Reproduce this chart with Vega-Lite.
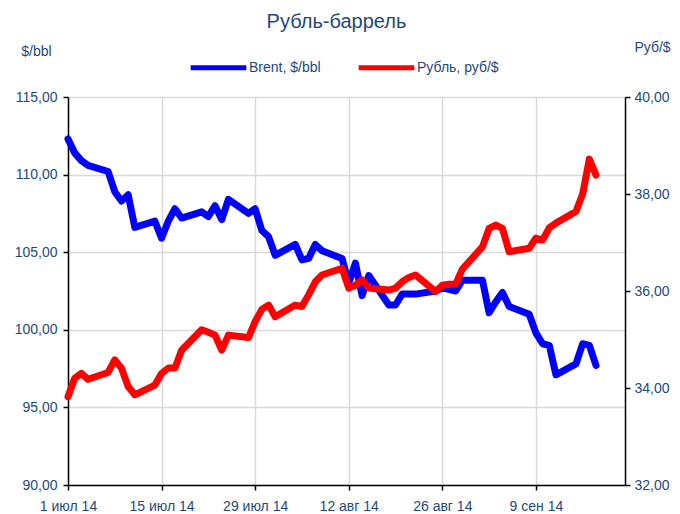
{
  "$schema": "https://vega.github.io/schema/vega-lite/v6.json",
  "width": 557,
  "height": 388,
  "autosize": {"type": "none"},
  "padding": {"left": 68, "top": 97, "right": 55, "bottom": 29},
  "background": "white",
  "title": {
    "text": "Рубль-баррель",
    "font": "Liberation Sans",
    "fontSize": 20,
    "fontWeight": "normal",
    "color": "#1F497D",
    "anchor": "middle",
    "dx": -10,
    "offset": 5
  },
  "config": {
    "view": {"stroke": null},
    "font": "Liberation Sans",
    "axis": {
      "labelFont": "Liberation Sans",
      "labelFontSize": 14,
      "labelColor": "#1F497D",
      "titleFont": "Liberation Sans",
      "titleFontSize": 14,
      "titleFontWeight": "normal",
      "titleColor": "#1F497D",
      "domainColor": "#000000",
      "domainWidth": 1.5,
      "tickColor": "#000000",
      "tickWidth": 1.5,
      "tickSize": 5,
      "gridColor": "#d9d9d9",
      "gridWidth": 1.5,
      "gridOpacity": 1
    },
    "legend": {
      "orient": "none",
      "legendX": 120,
      "legendY": -60,
      "direction": "horizontal",
      "title": null,
      "symbolType": "stroke",
      "symbolSize": 3100,
      "symbolStrokeWidth": 5,
      "labelFont": "Liberation Sans",
      "labelFontSize": 14,
      "labelColor": "#1F497D",
      "labelOffset": 0,
      "columnPadding": 27,
      "labelLimit": 200
    }
  },
  "data": {
    "values": [
      {"date": "2014-07-01", "brent": 112.3, "rub": 33.82},
      {"date": "2014-07-02", "brent": 111.4, "rub": 34.20},
      {"date": "2014-07-03", "brent": 110.9, "rub": 34.30},
      {"date": "2014-07-04", "brent": 110.6, "rub": 34.18},
      {"date": "2014-07-07", "brent": 110.2, "rub": 34.32},
      {"date": "2014-07-08", "brent": 108.9, "rub": 34.58},
      {"date": "2014-07-09", "brent": 108.3, "rub": 34.41},
      {"date": "2014-07-10", "brent": 108.7, "rub": 34.03},
      {"date": "2014-07-11", "brent": 106.6, "rub": 33.86},
      {"date": "2014-07-14", "brent": 107.0, "rub": 34.06},
      {"date": "2014-07-15", "brent": 105.9, "rub": 34.30},
      {"date": "2014-07-16", "brent": 107.0, "rub": 34.41},
      {"date": "2014-07-17", "brent": 107.8, "rub": 34.41},
      {"date": "2014-07-18", "brent": 107.2, "rub": 34.78},
      {"date": "2014-07-21", "brent": 107.6, "rub": 35.20},
      {"date": "2014-07-22", "brent": 107.3, "rub": 35.15},
      {"date": "2014-07-23", "brent": 108.0, "rub": 35.09},
      {"date": "2014-07-24", "brent": 107.1, "rub": 34.78},
      {"date": "2014-07-25", "brent": 108.4, "rub": 35.09},
      {"date": "2014-07-28", "brent": 107.5, "rub": 35.04},
      {"date": "2014-07-29", "brent": 107.8, "rub": 35.37},
      {"date": "2014-07-30", "brent": 106.4, "rub": 35.62},
      {"date": "2014-07-31", "brent": 106.0, "rub": 35.71},
      {"date": "2014-08-01", "brent": 104.8, "rub": 35.47},
      {"date": "2014-08-04", "brent": 105.5, "rub": 35.71},
      {"date": "2014-08-05", "brent": 104.5, "rub": 35.68},
      {"date": "2014-08-06", "brent": 104.6, "rub": 35.92},
      {"date": "2014-08-07", "brent": 105.5, "rub": 36.19},
      {"date": "2014-08-08", "brent": 105.1, "rub": 36.33},
      {"date": "2014-08-11", "brent": 104.6, "rub": 36.47},
      {"date": "2014-08-12", "brent": 103.0, "rub": 36.06},
      {"date": "2014-08-13", "brent": 104.3, "rub": 36.12},
      {"date": "2014-08-14", "brent": 102.2, "rub": 36.23},
      {"date": "2014-08-15", "brent": 103.5, "rub": 36.06},
      {"date": "2014-08-18", "brent": 101.6, "rub": 36.02},
      {"date": "2014-08-19", "brent": 101.6, "rub": 36.06},
      {"date": "2014-08-20", "brent": 102.3, "rub": 36.19},
      {"date": "2014-08-21", "brent": 102.3, "rub": 36.28},
      {"date": "2014-08-22", "brent": 102.3, "rub": 36.33},
      {"date": "2014-08-25", "brent": 102.5, "rub": 35.99},
      {"date": "2014-08-26", "brent": 102.7, "rub": 36.12},
      {"date": "2014-08-27", "brent": 102.6, "rub": 36.14},
      {"date": "2014-08-28", "brent": 102.5, "rub": 36.14},
      {"date": "2014-08-29", "brent": 103.2, "rub": 36.45},
      {"date": "2014-09-01", "brent": 103.2, "rub": 36.91},
      {"date": "2014-09-02", "brent": 101.1, "rub": 37.29},
      {"date": "2014-09-03", "brent": 101.8, "rub": 37.36},
      {"date": "2014-09-04", "brent": 102.4, "rub": 37.29},
      {"date": "2014-09-05", "brent": 101.5, "rub": 36.81},
      {"date": "2014-09-08", "brent": 101.0, "rub": 36.88},
      {"date": "2014-09-09", "brent": 99.8, "rub": 37.09},
      {"date": "2014-09-10", "brent": 99.1, "rub": 37.05},
      {"date": "2014-09-11", "brent": 99.0, "rub": 37.30},
      {"date": "2014-09-12", "brent": 97.1, "rub": 37.40},
      {"date": "2014-09-15", "brent": 97.8, "rub": 37.64},
      {"date": "2014-09-16", "brent": 99.1, "rub": 38.00},
      {"date": "2014-09-17", "brent": 99.0, "rub": 38.72},
      {"date": "2014-09-18", "brent": 97.7, "rub": 38.39}
    ]
  },
  "encoding": {
    "x": {
      "field": "date",
      "type": "temporal",
      "scale": {
        "type": "utc",
        "domain": [
          {"year": 2014, "month": 7, "date": 1, "utc": true},
          {"year": 2014, "month": 9, "date": 22, "hours": 8, "utc": true}
        ],
        "nice": false
      },
      "axis": {
        "title": null,
        "grid": true,
        "values": [
          {"year": 2014, "month": 7, "date": 1, "utc": true},
          {"year": 2014, "month": 7, "date": 15, "utc": true},
          {"year": 2014, "month": 7, "date": 29, "utc": true},
          {"year": 2014, "month": 8, "date": 12, "utc": true},
          {"year": 2014, "month": 8, "date": 26, "utc": true},
          {"year": 2014, "month": 9, "date": 9, "utc": true}
        ],
        "labelExpr": "utcdate(datum.value) + ' ' + (utcmonth(datum.value) == 6 ? 'июл' : utcmonth(datum.value) == 7 ? 'авг' : 'сен') + ' 14'",
        "labelPadding": 9,
        "labelFlush": false,
        "labelOverlap": false
      }
    }
  },
  "layer": [
    {
      "mark": {"type": "line", "strokeWidth": 7, "strokeJoin": "round", "strokeCap": "round"},
      "encoding": {
        "y": {
          "field": "brent",
          "type": "quantitative",
          "scale": {"domain": [90, 115], "nice": false, "zero": false},
          "axis": {
            "orient": "left",
            "values": [90, 95, 100, 105, 110, 115],
            "labelExpr": "replace(format(datum.value, '.2f'), '.', ',')",
            "grid": true,
            "labelPadding": 6,
            "title": "$/bbl",
            "titleAngle": 0,
            "titleAlign": "center",
            "titleBaseline": "middle",
            "titleX": -32,
            "titleY": -46
          }
        },
        "color": {
          "datum": "Brent, $/bbl",
          "scale": {"domain": ["Brent, $/bbl", "Рубль, руб/$"], "range": ["#0000FF", "#FF0000"]}
        }
      }
    },
    {
      "mark": {"type": "line", "strokeWidth": 7, "strokeJoin": "round", "strokeCap": "round"},
      "encoding": {
        "y": {
          "field": "rub",
          "type": "quantitative",
          "scale": {"domain": [32, 40], "nice": false, "zero": false},
          "axis": {
            "orient": "right",
            "values": [32, 34, 36, 38, 40],
            "labelExpr": "replace(format(datum.value, '.2f'), '.', ',')",
            "grid": false,
            "labelPadding": 4,
            "title": "Руб/$",
            "titleAngle": 0,
            "titleAlign": "center",
            "titleBaseline": "middle",
            "titleX": 27,
            "titleY": -50
          }
        },
        "color": {"datum": "Рубль, руб/$"}
      }
    }
  ],
  "resolve": {"scale": {"y": "independent"}}
}
